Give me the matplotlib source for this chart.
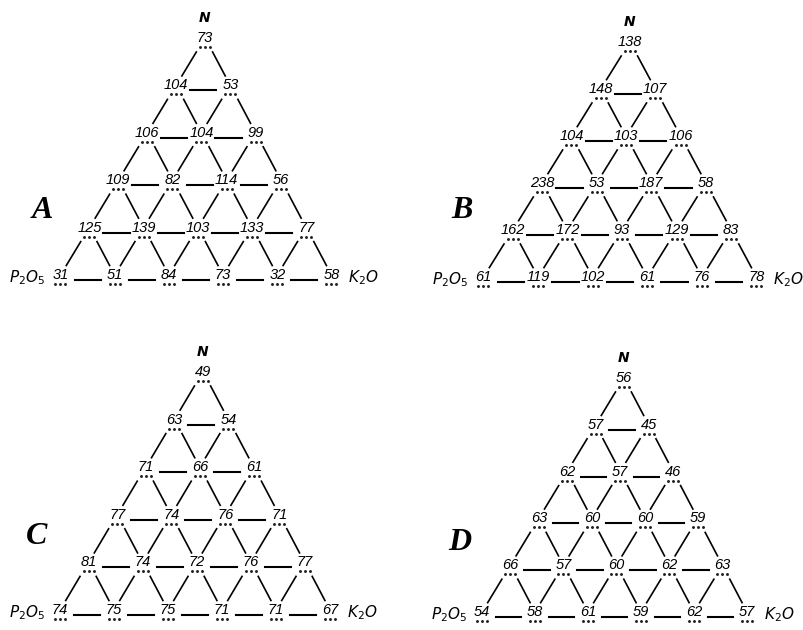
import matplotlib.pyplot as plt

# yields at each point of the N-P2O5-K2O triangle, top row first
yields_a = [[73], [104, 53], [106, 104, 99], [109, 82, 114, 56],
            [125, 139, 103, 133, 77], [31, 51, 84, 73, 32, 58]]
yields_b = [[138], [148, 107], [104, 103, 106], [238, 53, 187, 58],
            [162, 172, 93, 129, 83], [61, 119, 102, 61, 76, 78]]
yields_c = [[49], [63, 54], [71, 66, 61], [77, 74, 76, 71],
            [81, 74, 72, 76, 77], [74, 75, 75, 71, 71, 67]]
yields_d = [[56], [57, 45], [62, 57, 46], [63, 60, 60, 59],
            [66, 57, 60, 62, 63], [54, 58, 61, 59, 62, 57]]

panel_names = ["A", "B", "C", "D"]
panel_data = [yields_a, yields_b, yields_c, yields_d]

# apex x, apex y, column step, row step, lean per row (figure pixels)
layout = [(205, 38, 54.2, 47.4, 1.8),
          (630, 42, 54.6, 47.0, 2.0),
          (203, 372, 54.0, 47.6, 1.6),
          (624, 378, 53.0, 46.8, 1.9)]
letter_pos = [(42, 210), (462, 210), (37, 537), (460, 543)]

fig = plt.figure(figsize=(8.04, 6.3), dpi=100)
ax = fig.add_axes([0, 0, 1, 1])
ax.set_xlim(0, 804)
ax.set_ylim(630, 0)
ax.axis("off")

num_font = dict(family="Liberation Sans", style="italic", fontsize=10.5)


def node_xy(geom, i, j):
    x0, y0, dx, dy, lean = geom
    return x0 + (j - i / 2) * dx - i * lean, y0 + i * dy


for name, rows, geom, lpos in zip(panel_names, panel_data, layout, letter_pos):
    n = len(rows)
    for i, row in enumerate(rows):
        for j, val in enumerate(row):
            x, y = node_xy(geom, i, j)
            ax.text(x, y, str(val), ha="center", va="center", **num_font)
            ax.plot([x - 5, x, x + 5], [y + 9, y + 9, y + 9], ls="none",
                    marker="o", ms=1.1, color="#222222")
            # horizontal link to the right neighbour
            if j + 1 < len(row):
                x2, _ = node_xy(geom, i, j + 1)
                ax.plot([x + 0.26 * (x2 - x), x + 0.74 * (x2 - x)],
                        [y + 5, y + 5], color="black", lw=1.5)
            # slanted links to the two points below
            if i + 1 < n:
                for k in (j, j + 1):
                    xb, yb = node_xy(geom, i + 1, k)
                    ax.plot([x + 0.3 * (xb - x), x + 0.8 * (xb - x)],
                            [y + 14, y + 0.8 * (yb - y)],
                            color="black", lw=1.2)
    # corner labels
    xa, ya = node_xy(geom, 0, 0)
    ax.text(xa, ya - 20, "N", ha="center", va="center", style="italic",
            weight="bold", fontsize=10)
    xl, yl = node_xy(geom, n - 1, 0)
    xr, yr = node_xy(geom, n - 1, n - 1)
    ax.text(xl - 33, yl + 3, r"$P_2O_5$", ha="center", va="center", fontsize=11)
    ax.text(xr + 32, yr + 3, r"$K_2O$", ha="center", va="center", fontsize=11)
    ax.text(lpos[0], lpos[1], name, ha="center", va="center",
            family="Liberation Serif", style="italic", weight="bold", fontsize=23)

fig.savefig("out.png", dpi=100)
